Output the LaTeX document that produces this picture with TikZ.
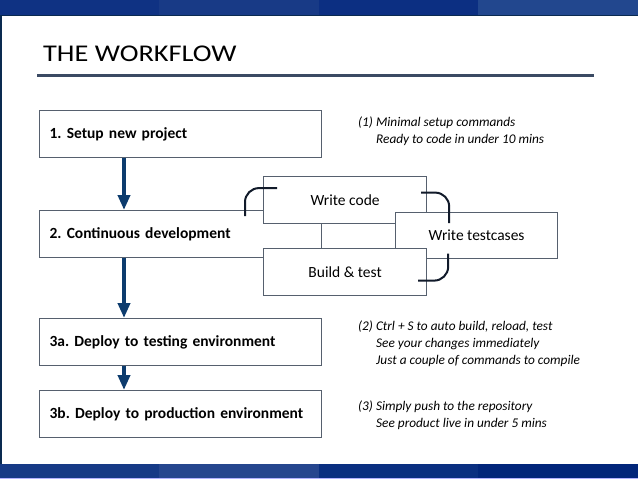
\documentclass[tikz,border=0pt]{standalone}
\usepackage{fontspec}
\setmainfont{Carlito}
\newfontfamily\titlefont[FakeStretch=1.18]{Carlito}
\usetikzlibrary{positioning,arrows.meta,calc}
\frenchspacing

\definecolor{barA}{HTML}{0F3283}
\definecolor{barB}{HTML}{183A86}
\definecolor{barC}{HTML}{0C2F82}
\definecolor{barD}{HTML}{22478E}
\definecolor{footA}{HTML}{163A86}
\definecolor{footB}{HTML}{26468E}
\definecolor{footC}{HTML}{0A2F80}
\definecolor{footD}{HTML}{02267A}
\definecolor{edgenavy}{HTML}{0A2A50}
\definecolor{boxline}{HTML}{56606E}
\definecolor{flowblue}{HTML}{0D3C6E}
\definecolor{rulegray}{HTML}{3B4A63}
\definecolor{loopink}{HTML}{111A2A}

\begin{document}
\begin{tikzpicture}[x=1pt,y=-1pt,
    stepbox/.style={draw=boxline,line width=1.2pt,fill=white,anchor=north west,
      minimum height=47pt,text width=262pt,inner xsep=10pt,align=left,
      font=\bfseries\fontsize{15.5}{18}\selectfont},
    subbox/.style={draw=boxline,line width=1.2pt,fill=white,anchor=north west,
      minimum width=163pt,minimum height=47pt,inner sep=0pt,
      font=\fontsize{15.5}{18}\selectfont},
    note/.style={anchor=north west,inner sep=0pt,align=left,
      font=\itshape\fontsize{13.3}{17}\selectfont},
    flow/.style={draw=flowblue,line width=3.8pt,-{Triangle[width=12pt,length=15pt]}},
    cycleline/.style={draw=loopink,line width=2pt,rounded corners=14pt}]

    \useasboundingbox (0,0) rectangle (638,479);

    %% Frame
    \fill[barA] (0,0) rectangle (159,15);
    \fill[barB] (159,0) rectangle (319,15);
    \fill[barC] (319,0) rectangle (478,15);
    \fill[barD] (478,0) rectangle (638,15);
    \fill[edgenavy] (0,15) rectangle (638,16);
    \fill[edgenavy] (0,15) rectangle (1.5,464);
    \fill[footA] (0,464) rectangle (159,478);
    \fill[footB] (159,464) rectangle (319,478);
    \fill[footC] (319,464) rectangle (478,478);
    \fill[footD] (478,464) rectangle (638,478);
    \fill[blue!30!white] (0,478) rectangle (638,479);

    %% Title
    \node[anchor=base west,inner sep=0pt,font=\titlefont\fontsize{24}{28}\selectfont] (title) at (43,61) {THE WORKFLOW};
    \draw[rulegray,line width=3pt] (37,75) -- (594,75);

    %% Steps
    \node[stepbox] (setup) at (39,110) {1. Setup new project};
    \node[stepbox] (dev) at (39,210) {2. Continuous development};
    \node[subbox] (code) at (263,176) {Write code};
    \node[subbox,minimum width=162pt,minimum height=46pt] (tests) at (395,212) {Write testcases};
    \node[subbox] (build) at (263,248) {Build \& test};
    \node[stepbox] (deploytest) at (39,318) {3a. Deploy to testing environment};
    \node[stepbox] (deployprod) at (39,390) {3b. Deploy to production environment};

    %% Flow
    \draw[flow] ([xshift=85pt]setup.south west) -- ([xshift=85pt]dev.north west);
    \draw[flow] ([xshift=85pt]dev.south west) -- ([xshift=85pt]deploytest.north west);
    \draw[flow] ([xshift=85pt]deploytest.south west) -- ([xshift=85pt]deployprod.north west);

    %% Cycle
    \draw[cycleline] ([xshift=-18pt,yshift=-16pt]code.west) |- ([xshift=14pt,yshift=12pt]code.west);
    \draw[cycleline] ([xshift=-6pt,yshift=7.5pt]code.east) -| ([xshift=22pt,yshift=-23pt]code.east);
    \draw[cycleline] ([xshift=21pt,yshift=18.5pt]build.east) |- ([xshift=-9pt,yshift=-8.5pt]build.east);

    %% Notes
    \node[note] (note1) at (358,117) {(1) Minimal setup commands\\\hspace{18pt}Ready to code in under 10 mins};
    \node[note] (note2) at (358,321) {(2) Ctrl + S to auto build, reload, test\\\hspace{18pt}See your changes immediately\\\hspace{18pt}Just a couple of commands to compile};
    \node[note] (note3) at (358,401) {(3) Simply push to the repository\\\hspace{18pt}See product live in under 5 mins};
\end{tikzpicture}
\end{document}
